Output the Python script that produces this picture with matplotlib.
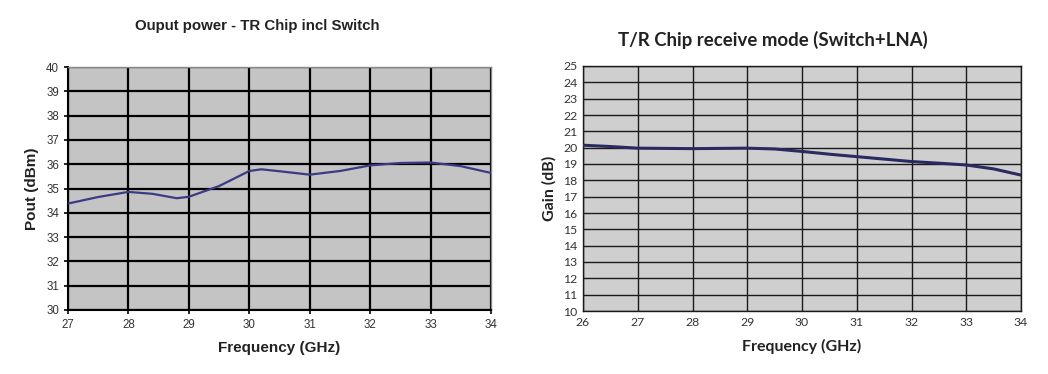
import matplotlib
matplotlib.use("Agg")
import matplotlib.pyplot as plt

# Left chart: output power
freq_left = [27, 27.5, 28, 28.4, 28.8, 29, 29.5, 30, 30.2, 30.5, 31, 31.5, 32, 32.5, 33, 33.5, 34]
pout = [34.38, 34.65, 34.86, 34.78, 34.6, 34.66, 35.1, 35.72, 35.79, 35.71, 35.57, 35.72, 35.95, 36.05, 36.07, 35.92, 35.64]
left_xticks = list(range(27, 35))
left_yticks = list(range(30, 41))

# Right chart: receive gain
freq_right = [26, 26.5, 27, 28, 29, 29.5, 30, 30.5, 31, 31.5, 32, 32.5, 33, 33.5, 34]
gain = [20.15, 20.07, 19.97, 19.94, 19.97, 19.92, 19.77, 19.6, 19.45, 19.3, 19.15, 19.05, 18.94, 18.7, 18.32]
right_xticks = list(range(26, 35))
right_yticks = list(range(10, 26))

fig = plt.figure(figsize=(10.48, 3.74), dpi=100)
fig.patch.set_facecolor("white")

# ---- Left ----
ax1 = fig.add_axes([68/1048, 1-310/374, (491-68)/1048, (310-67)/374])
ax1.set_facecolor("#c4c4c4")
ax1.plot(freq_left, pout, color="#3b3b85", lw=1.6, zorder=3)
ax1.set_xlim(27, 34)
ax1.set_ylim(30, 40)
ax1.set_xticks(left_xticks)
ax1.set_yticks(left_yticks)
ax1.grid(True, color="black", lw=1.6, zorder=1)
ax1.set_axisbelow(True)
for s in ax1.spines.values():
    s.set_color("#888888")
    s.set_linewidth(1.0)
ax1.spines["left"].set_color("black")
ax1.spines["bottom"].set_color("black")
ax1.spines["left"].set_linewidth(1.5)
ax1.spines["bottom"].set_linewidth(1.5)
ax1.tick_params(axis="both", labelsize=8.3, colors="black", length=3, width=1.2, direction="out", labelcolor="#333333")
for lab in ax1.get_xticklabels() + ax1.get_yticklabels():
    lab.set_family("Liberation Sans")
ax1.set_xlabel("Frequency (GHz)", fontsize=11, fontweight="bold", family="Liberation Sans", labelpad=7, color="#222222")
ax1.set_ylabel("Pout (dBm)", fontsize=11, fontweight="bold", family="Liberation Sans", labelpad=5, color="#222222")
fig.text(257/1048, 1-26/374, "Ouput power - TR Chip incl Switch", ha="center", va="center",
         fontsize=10.8, fontweight="bold", family="Liberation Sans", color="#222222")

# ---- Right ----
ax2 = fig.add_axes([583/1048, 1-311/374, (1021-583)/1048, (311-66)/374])
ax2.set_facecolor("#cfcfcf")
ax2.plot(freq_right, gain, color="#2a2a62", lw=2.2, zorder=3)
ax2.set_xlim(26, 34)
ax2.set_ylim(10, 25)
ax2.set_xticks(right_xticks)
ax2.set_yticks(right_yticks)
ax2.grid(True, color="#1a1a1a", lw=1.0, zorder=1)
ax2.set_axisbelow(True)
for s in ax2.spines.values():
    s.set_color("#1a1a1a")
    s.set_linewidth(1.0)
ax2.tick_params(axis="both", labelsize=8.8, colors="#1a1a1a", length=0, pad=4, labelcolor="#333333")
for lab in ax2.get_xticklabels() + ax2.get_yticklabels():
    lab.set_family("Lato")
ax2.set_xlabel("Frequency (GHz)", fontsize=11.5, fontweight="bold", family="Lato", labelpad=8, color="#222222")
ax2.set_ylabel("Gain (dB)", fontsize=11.5, fontweight="bold", family="Lato", labelpad=5, color="#222222")
fig.text(773/1048, 1-40/374, "T/R Chip receive mode (Switch+LNA)", ha="center", va="center",
         fontsize=13.4, fontweight="bold", family="Lato", color="#222222")

fig.savefig("out.png", dpi=100, facecolor="white")
